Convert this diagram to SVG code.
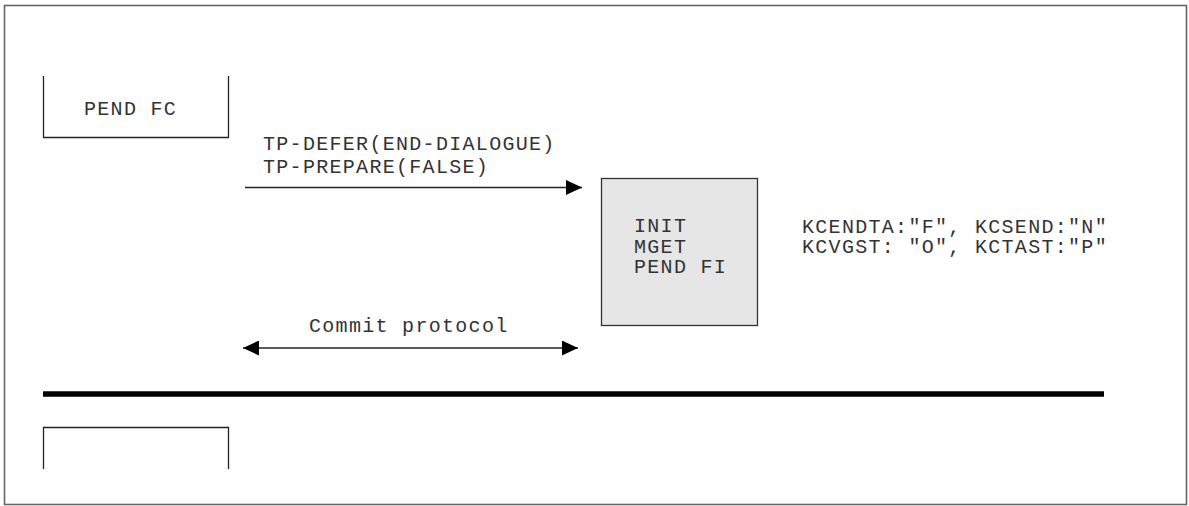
<svg xmlns="http://www.w3.org/2000/svg" width="1189" height="506" viewBox="0 0 1189 506">
<style>
.t{font-family:"Liberation Mono",monospace;font-size:20px;letter-spacing:1.3px;fill:#333}
.ln{stroke:#222;stroke-width:1.3;fill:none}
</style>
<defs>
<marker id="ah" markerWidth="16" markerHeight="15" refX="16" refY="7.5" orient="auto-start-reverse" markerUnits="userSpaceOnUse">
<path d="M0,0 L16,7.5 L0,15 Z" fill="#000"/>
</marker>
</defs>
<rect x="0" y="0" width="1189" height="506" fill="#fff"/>
<rect x="4.5" y="5.5" width="1182" height="499" fill="none" stroke="#666" stroke-width="1.6"/>
<g id="pendfc">
<path class="ln" d="M43.5,76 V137.5 H228.5 V76"/>
<text class="t" x="84" y="115">PEND FC</text>
</g>
<g id="bottombox">
<path class="ln" d="M43.5,469 V427.5 H228.5 V469"/>
</g>
<g id="separator">
<line x1="43" y1="394" x2="1104" y2="394" stroke="#000" stroke-width="5.5"/>
</g>
<g id="statebox">
<rect x="601.5" y="178.5" width="156" height="147" fill="#e6e6e6" stroke="#333" stroke-width="1.3"/>
<text class="t" x="634" y="232">INIT</text>
<text class="t" x="634" y="253">MGET</text>
<text class="t" x="634" y="273">PEND FI</text>
</g>
<g id="kcvals">
<text class="t" x="802" y="233">KCENDTA:"F", KCSEND:"N"</text>
<text class="t" x="802" y="253">KCVGST: "O", KCTAST:"P"</text>
</g>
<g id="connectors">
<line class="ln" x1="245" y1="187.5" x2="582" y2="187.5" marker-end="url(#ah)"/>
<text class="t" x="263" y="150">TP-DEFER(END-DIALOGUE)</text>
<text class="t" x="263" y="173">TP-PREPARE(FALSE)</text>
<line class="ln" x1="243" y1="348" x2="578" y2="348" marker-start="url(#ah)" marker-end="url(#ah)"/>
<text class="t" x="309" y="332">Commit protocol</text>
</g>
</svg>
